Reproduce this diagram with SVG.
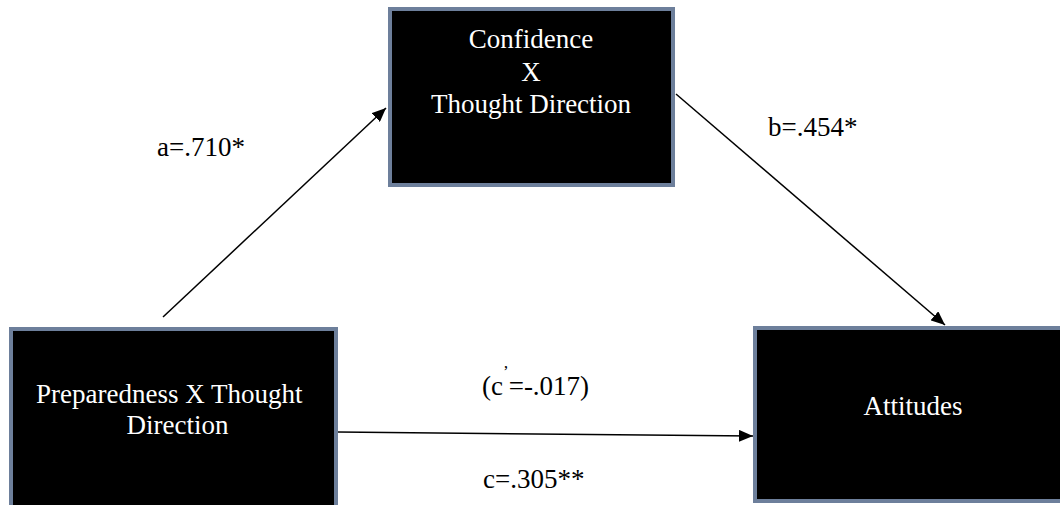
<svg xmlns="http://www.w3.org/2000/svg" width="1060" height="505" viewBox="0 0 1060 505">
<style>
.box{fill:#000;stroke:#6d7f9b;stroke-width:4}
.bt{fill:#fff;font-family:"Liberation Serif","Times New Roman",serif;font-size:27px}
.lb{fill:#000;font-family:"Liberation Serif","Times New Roman",serif;font-size:27px}
.ln{stroke:#000;stroke-width:1.5;fill:none;marker-end:url(#ah)}
</style>
<defs>
<marker id="ah" markerUnits="userSpaceOnUse" markerWidth="14" markerHeight="12" refX="14" refY="6" orient="auto">
<path d="M0,0 L14,6 L0,12 z" fill="#000"/>
</marker>
</defs>
<rect width="1060" height="505" fill="#fff"/>
<g id="connectors">
<line class="ln" x1="163" y1="317" x2="386" y2="108"/>
<line class="ln" x1="676" y1="94" x2="945" y2="325"/>
<line class="ln" x1="338" y1="432" x2="753" y2="436"/>
</g>
<g id="node-confidence">
<rect class="box" x="390" y="9" width="283" height="176"/>
<text class="bt" x="531" y="48" text-anchor="middle">Confidence</text>
<text class="bt" x="531" y="81" text-anchor="middle">X</text>
<text class="bt" x="531" y="113" text-anchor="middle">Thought Direction</text>
</g>
<g id="node-preparedness">
<rect class="box" x="11" y="329" width="325" height="200"/>
<text class="bt" x="36" y="403">Preparedness X Thought</text>
<text class="bt" x="177.5" y="434" text-anchor="middle">Direction</text>
</g>
<g id="node-attitudes">
<rect class="box" x="755" y="328" width="320" height="173"/>
<text class="bt" x="913" y="415" text-anchor="middle">Attitudes</text>
</g>
<g id="labels">
<text class="lb" x="157" y="156">a=.710*</text>
<text class="lb" x="768" y="136">b=.454*</text>
<text class="lb" x="482" y="395">(c<tspan dy="-18" font-size="17">’</tspan><tspan dy="18">=-.017)</tspan></text>
<text class="lb" x="483" y="488">c=.305**</text>
</g>
</svg>
